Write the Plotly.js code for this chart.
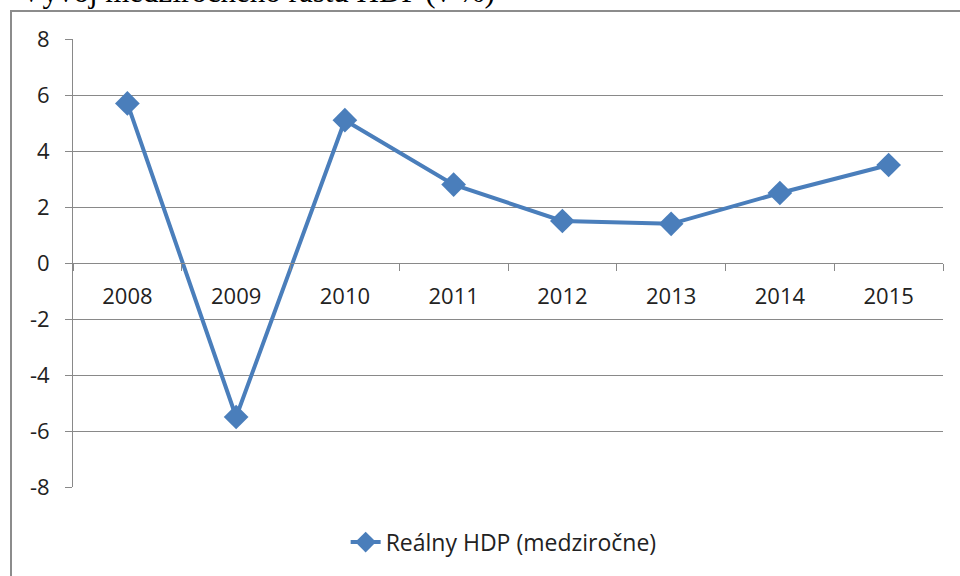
<!DOCTYPE html>
<html>
<head>
<meta charset="utf-8">
<script src="https://cdn.plot.ly/plotly-3.0.1.min.js"></script>
<style>
  body { margin: 0; background: #fff; }
  #chart { width: 960px; height: 576px; }
</style>
</head>
<body>
<div id="chart"></div>
<script>
// medzirocny rast HDP
var years = ["2008", "2009", "2010", "2011", "2012", "2013", "2014", "2015"];
var hdp = [5.7, -5.5, 5.1, 2.8, 1.5, 1.4, 2.5, 3.5];
var yTicks = [-8, -6, -4, -2, 0, 2, 4, 6, 8];
var yTickText = yTicks.map(String); // obycajny spojovnik ako v Exceli
var seriesName = "Reálny HDP (medziročne)";
var cutTitle = "Vývoj medziročného rastu HDP (v %)";

var blue = "#4a7ebb";
var gray = "#898989";
var fnt = "'Open Sans', sans-serif";

var trace = {
  x: years,
  y: hdp,
  name: seriesName,
  type: "scatter",
  mode: "lines+markers",
  line: { color: blue, width: 4 },
  marker: { symbol: "diamond", size: 19, color: blue }
};

var layout = {
  width: 960,
  height: 576,
  margin: { l: 73, r: 17, t: 39, b: 87 },
  paper_bgcolor: "#fff",
  plot_bgcolor: "#fff",
  showlegend: true,
  legend: {
    orientation: "h",
    x: 0.495, xanchor: "center",
    y: -0.123, yanchor: "middle",
    font: { family: fnt, size: 23, color: "#222" }
  },
  xaxis: {
    type: "category",
    range: [-0.5, 7.5],
    anchor: "free",
    position: 0.5,
    showline: true,
    linecolor: gray,
    linewidth: 1,
    showgrid: false,
    zeroline: false,
    tickson: "boundaries",
    ticks: "outside",
    ticklen: 7,
    tickcolor: gray,
    ticklabelstandoff: 14,
    tickfont: { family: fnt, size: 22, color: "#222" },
    fixedrange: true
  },
  yaxis: {
    range: [-8, 8],
    tickvals: yTicks,
    ticktext: yTickText,
    showline: true,
    linecolor: gray,
    linewidth: 1,
    showgrid: true,
    gridcolor: gray,
    gridwidth: 1,
    zeroline: false,
    ticks: "outside",
    ticklen: 7,
    tickcolor: gray,
    ticklabelstandoff: 11,
    tickfont: { family: fnt, size: 22, color: "#222" },
    fixedrange: true
  },
  shapes: [{
    type: "rect",
    xref: "paper", yref: "paper",
    x0: (11 - 73) / 870, x1: (975 - 73) / 870,
    y0: (489 - 590) / 450, y1: (489 - 11) / 450,
    line: { color: "#8c8c8c", width: 2 },
    fillcolor: "rgba(0,0,0,0)"
  }],
  annotations: [{
    text: cutTitle,
    xref: "paper", yref: "paper",
    x: (18 - 73) / 870, xanchor: "left",
    y: (489 - 11) / 450, yanchor: "bottom",
    showarrow: false,
    font: { family: "'Liberation Serif', 'Times New Roman', serif", size: 31, color: "#000" }
  }]
};

Plotly.newPlot("chart", [trace], layout, { displayModeBar: false, staticPlot: true });
</script>
</body>
</html>
